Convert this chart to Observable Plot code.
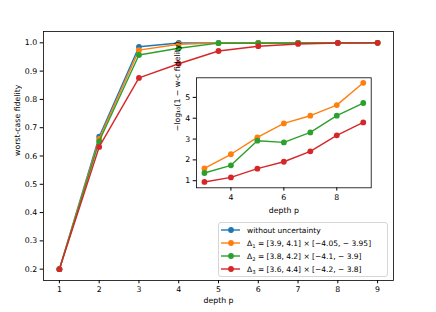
<!DOCTYPE html>
<html>
<head>
<meta charset="utf-8">
<script src="https://cdn.jsdelivr.net/npm/d3@7"></script>
<script src="https://cdn.jsdelivr.net/npm/@observablehq/plot@0.6"></script>
<style>
  html, body { margin: 0; padding: 0; background: white; }
  #wrap { position: relative; width: 436px; height: 312px; font-family: "DejaVu Sans", sans-serif; }
  #wrap > svg { position: absolute; left: 0; top: 0; }
  #legend { position: absolute; left: 218px; top: 222px; width: 170px; height: 55px;
    border: 1px solid #d6d6d6; border-radius: 3px; background: rgba(255,255,255,0.85);
    box-sizing: border-box; font-size: 7.5px; color: #000; }
  .row { position: absolute; left: 0; height: 12px; display: flex; align-items: center; white-space: nowrap; }
  .row svg { margin-left: 2px; margin-right: 7px; }
  sub { font-size: 5.3px; vertical-align: -1.5px; line-height: 0; }
</style>
</head>
<body>
<div id="wrap"></div>
<script>
// ---- data ----
const seriesNames = ["without uncertainty", "Δ1", "Δ2", "Δ3"];
const seriesColors = ["#1f77b4", "#ff7f0e", "#2ca02c", "#d62728"];
const depth = [1, 2, 3, 4, 5, 6, 7, 8, 9];
const fidNoUnc = [0.2, 0.668, 0.986, 0.9995, 0.9999, 1.0, 1.0, 1.0, 1.0];
const fidD1 = [0.2, 0.660, 0.974, 0.995, 0.9992, 0.9998, 0.99992, 0.99998, 0.999998];
const fidD2 = [0.2, 0.652, 0.957, 0.981, 0.9988, 0.9986, 0.9995, 0.99992, 0.99998];
const fidD3 = [0.2, 0.632, 0.876, 0.926, 0.971, 0.988, 0.996, 0.9993, 0.99984];
const depthInset = [3, 4, 5, 6, 7, 8, 9];
const negLogD1 = [1.59, 2.27, 3.08, 3.75, 4.12, 4.63, 5.70];
const negLogD2 = [1.37, 1.74, 2.92, 2.84, 3.32, 4.12, 4.73];
const negLogD3 = [0.94, 1.16, 1.58, 1.91, 2.41, 3.18, 3.80];
const mainXTicks = [1, 2, 3, 4, 5, 6, 7, 8, 9];
const mainYTicks = [0.2, 0.3, 0.4, 0.5, 0.6, 0.7, 0.8, 0.9, 1.0];
const insetXTicks = [4, 6, 8];
const insetYTicks = [1, 2, 3, 4, 5];
const legendLabels = [
  "without uncertainty",
  "Δ<sub>1</sub> = [3.9, 4.1] × [−4.05, − 3.95]",
  "Δ<sub>2</sub> = [3.8, 4.2] × [−4.1, − 3.9]",
  "Δ<sub>3</sub> = [3.6, 4.4] × [−4.2, − 3.8]"
];

const mainSeries = [fidNoUnc, fidD1, fidD2, fidD3].map((vals, i) =>
  vals.map((v, j) => ({series: seriesNames[i], depth: depth[j], value: v})));
const insetSeries = [negLogD1, negLogD2, negLogD3].map((vals, i) =>
  vals.map((v, j) => ({series: seriesNames[i + 1], depth: depthInset[j], value: v})));

const color = {domain: seriesNames, range: seriesColors};
const fontStyle = {fontFamily: "DejaVu Sans", fontSize: "7.8px", color: "#000", overflow: "visible"};

function seriesMarks(groups) {
  const m = [];
  for (const g of groups) {
    m.push(Plot.line(g, {x: "depth", y: "value", stroke: "series", strokeWidth: 1.4}));
    m.push(Plot.dot(g, {x: "depth", y: "value", fill: "series", r: 2.9, stroke: "none"}));
  }
  return m;
}

const main = Plot.plot({
  width: 436, height: 312,
  marginLeft: 43, marginRight: 43, marginTop: 31, marginBottom: 32,
  style: {...fontStyle, background: "white"},
  x: {domain: [0.6, 9.4]},
  y: {domain: [0.16, 1.04]},
  color,
  marks: [
    Plot.axisX({ticks: mainXTicks, tickFormat: "d", tickSize: 3.3, tickPadding: 3, label: null}),
    Plot.axisY({ticks: mainYTicks, tickFormat: ".1f", tickSize: 3.3, tickPadding: 3, label: null}),
    ...seriesMarks(mainSeries),
    Plot.frame({stroke: "#000", strokeWidth: 0.8}),
    Plot.text(["depth p"], {frameAnchor: "bottom", dy: 22, fontSize: 7.8}),
    Plot.text(["worst-case fidelity"], {frameAnchor: "left", dx: -26.5, rotate: -90, fontSize: 7.8})
  ]
});

const inset = Plot.plot({
  width: 436, height: 312,
  marginLeft: 196, marginRight: 65.3, marginTop: 77.3, marginBottom: 124.7,
  style: {...fontStyle, background: "transparent"},
  x: {domain: [2.7, 9.3]},
  y: {domain: [0.66, 5.94]},
  color,
  marks: [
    Plot.frame({fill: "white", stroke: "none"}),
    Plot.axisX({ticks: insetXTicks, tickFormat: "d", tickSize: 3.3, tickPadding: 3, label: null}),
    Plot.axisY({ticks: insetYTicks, tickFormat: "d", tickSize: 3.3, tickPadding: 3, label: null}),
    ...seriesMarks(insetSeries),
    Plot.frame({stroke: "#000", strokeWidth: 0.8}),
    Plot.text(["depth p"], {frameAnchor: "bottom", dy: 25, fontSize: 7.8}),
    Plot.text(["−log₁₀(1 − w-c fidelity)"], {frameAnchor: "left", dx: -19.5, dy: -1.5, rotate: -90, fontSize: 7.8})
  ]
});

const wrap = document.getElementById("wrap");
wrap.appendChild(main);
wrap.appendChild(inset);

const legend = document.createElement("div");
legend.id = "legend";
const rowTops = [1.3, 14.3, 27.3, 40];
legendLabels.forEach((lab, i) => {
  const row = document.createElement("div");
  row.className = "row";
  row.style.top = rowTops[i] + "px";
  const c = seriesColors[i];
  row.innerHTML = `<svg width="19" height="8"><line x1="0" y1="4" x2="19" y2="4" stroke="${c}" stroke-width="1.4"/><circle cx="10" cy="4" r="2.9" fill="${c}"/></svg><span>${lab}</span>`;
  legend.appendChild(row);
});
wrap.appendChild(legend);
</script>
</body>
</html>
